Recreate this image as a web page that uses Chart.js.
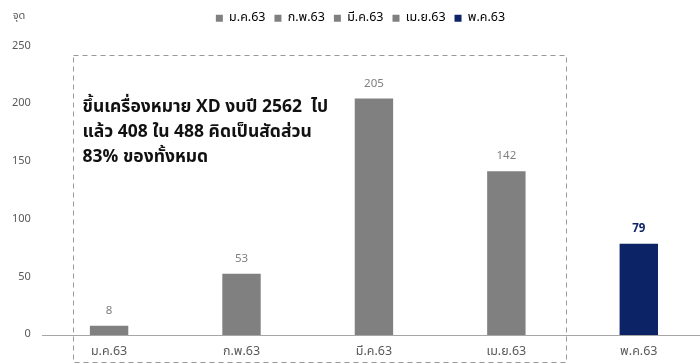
<!DOCTYPE html>
<html>
<head>
<meta charset="utf-8">
<script src="https://cdn.jsdelivr.net/npm/chart.js@4.4.1/dist/chart.umd.min.js"></script>
<style>
  html, body { margin: 0; padding: 0; background: #ffffff; overflow: hidden; }
  #wrap { width: 700px; height: 364px; position: relative; overflow: hidden; }
</style>
</head>
<body>
<div id="wrap"><canvas id="c" width="705" height="364"></canvas></div>
<script>
// Monthly XD counts
const categories = ['ม.ค.63', 'ก.พ.63', 'มี.ค.63', 'เม.ย.63', 'พ.ค.63'];
const values = [8, 53, 205, 142, 79];
const barColors = ['#808080', '#808080', '#808080', '#808080', '#0c2366'];
const yTicks = [0, 50, 100, 150, 200, 250];
const unitLabel = 'จุด';
const noteLines = [
  'ขึ้นเครื่องหมาย XD งบปี 2562  ไป',
  'แล้ว 408 ใน 488 คิดเป็นสัดส่วน',
  '83% ของทั้งหมด'
];

const FONT = "Tahoma, 'Noto Sans Thai', 'Noto Sans', sans-serif";

// Extra room under the legend, and a slight rightward nudge of the legend row
const legendGap = {
  id: 'legendGap',
  beforeInit(chart) {
    const origFit = chart.legend.fit;
    chart.legend.fit = function () {
      origFit.bind(chart.legend)();
      this.height += 12;
    };
  },
  afterLayout(chart) {
    chart.legend.left += 8;
    chart.legend.right += 8;
  }
};

// Value labels above each bar, the dashed highlight box, the note text and the unit label
const overlay = {
  id: 'overlay',
  afterDatasetsDraw(chart) {
    const ctx = chart.ctx;
    const meta = chart.getDatasetMeta(0);
    const x = chart.scales.x, y = chart.scales.y;
    ctx.save();
    ctx.textAlign = 'center';
    ctx.textBaseline = 'middle';
    meta.data.forEach((bar, i) => {
      const last = i === values.length - 1;
      ctx.font = (last ? 'bold ' : '') + '11.5px ' + FONT;
      ctx.fillStyle = last ? '#0c2366' : '#7f7f7f';
      ctx.fillText(String(values[i]), bar.x, bar.y - 14);
    });

    // dashed box around the first four months
    const left = x.getPixelForValue(-0.27);
    const right = x.getPixelForValue(3.45);
    const top = y.getPixelForValue(242.5);
    const bottom = y.getPixelForValue(-23.4);
    ctx.setLineDash([5, 4]);
    ctx.strokeStyle = '#999999';
    ctx.lineWidth = 1;
    ctx.strokeRect(Math.round(left) + 0.5, Math.round(top) + 0.5, Math.round(right - left), Math.round(bottom - top));
    ctx.setLineDash([]);

    // note
    ctx.textAlign = 'left';
    ctx.textBaseline = 'middle';
    ctx.fillStyle = '#111111';
    ctx.font = 'bold 17.5px ' + FONT;
    const noteX = x.getPixelForValue(-0.2);
    noteLines.forEach((t, i) => {
      ctx.fillText(t, noteX, y.getPixelForValue(196) + i * 25);
    });

    // unit
    ctx.font = '11px ' + FONT;
    ctx.fillStyle = '#595959';
    ctx.textAlign = 'center';
    ctx.fillText(unitLabel, 19, 17);
    ctx.restore();
  }
};

new Chart(document.getElementById('c'), {
  type: 'bar',
  data: {
    labels: categories,
    datasets: [{
      data: values,
      backgroundColor: barColors,
      borderWidth: 0,
      categoryPercentage: 1,
      barPercentage: 0.29
    }]
  },
  options: {
    responsive: false,
    animation: false,
    layout: { padding: { left: 0, right: 0, top: 3, bottom: 0 } },
    plugins: {
      tooltip: { enabled: false },
      legend: {
        display: true,
        position: 'top',
        labels: {
          boxWidth: 7,
          boxHeight: 7,
          padding: 9,
          color: '#595959',
          font: { family: FONT, size: 12.5 },
          generateLabels() {
            return categories.map((c, i) => ({
              text: c,
              fillStyle: barColors[i],
              strokeStyle: barColors[i],
              lineWidth: 0,
              hidden: false,
              index: i,
              datasetIndex: 0
            }));
          }
        },
        onClick() {}
      }
    },
    scales: {
      x: {
        afterFit(scale) { scale.height -= 6; },
        grid: { display: false, drawTicks: false },
        border: { display: true, color: '#a6a6a6', width: 1 },
        ticks: { color: '#595959', font: { family: FONT, size: 12.5 }, padding: 10 }
      },
      y: {
        min: 0,
        max: 250,
        afterBuildTicks(axis) { axis.ticks = yTicks.map(v => ({ value: v })); },
        grid: { display: false, drawTicks: false },
        border: { display: false },
        ticks: { color: '#595959', font: { family: FONT, size: 11 }, padding: 12 }
      }
    }
  },
  plugins: [legendGap, overlay]
});
</script>
</body>
</html>
